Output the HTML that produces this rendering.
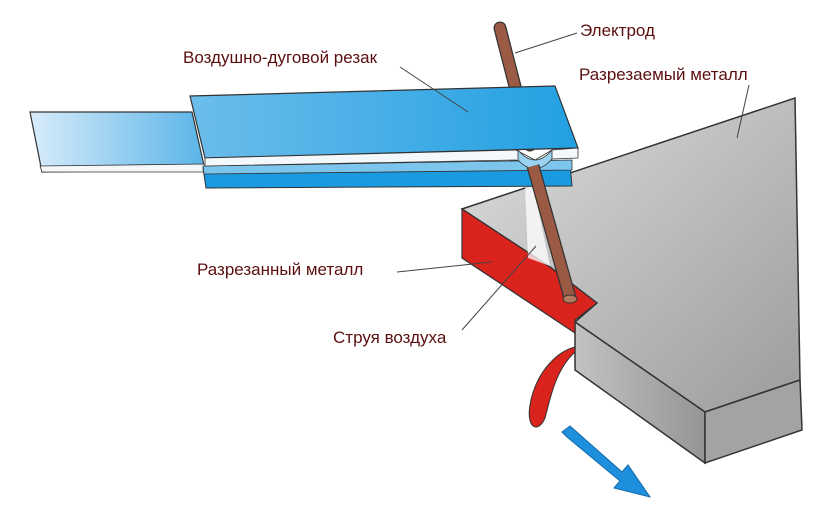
<!DOCTYPE html>
<html><head><meta charset="utf-8"><style>
html,body{margin:0;padding:0;background:#fff;}
svg{display:block}
text{font-family:"Liberation Sans",sans-serif;font-size:17px;fill:#5c0f0f;}
</style></head><body>
<svg width="835" height="515" viewBox="0 0 835 515" xmlns="http://www.w3.org/2000/svg">
<defs>
<linearGradient id="lb" x1="0" x2="1" y1="0" y2="0"><stop offset="0" stop-color="#d8ecfa"/><stop offset="1" stop-color="#5ab4e8"/></linearGradient>
<linearGradient id="mb" x1="0" x2="1" y1="0" y2="0"><stop offset="0" stop-color="#6cbdeb"/><stop offset="1" stop-color="#22a0e2"/></linearGradient>
<linearGradient id="gr" x1="0" x2="1" y1="0" y2="1"><stop offset="0" stop-color="#dedede"/><stop offset="1" stop-color="#9c9c9c"/></linearGradient>
<linearGradient id="gr2" x1="0" x2="1" y1="0" y2="0"><stop offset="0" stop-color="#c2c2c2"/><stop offset="1" stop-color="#959595"/></linearGradient>
</defs>
<!-- gray block -->
<polygon points="462,209 795,98 800,380 705,412 575,322 597,303 550,267" fill="url(#gr)" stroke="#333" stroke-width="1.5"/>
<polygon points="575,322 705,412 705,463 575,370" fill="url(#gr2)" stroke="#333" stroke-width="1.5"/>
<polygon points="705,412 800,380 802,430 705,463" fill="#a3a3a3" stroke="#333" stroke-width="1.5"/>
<!-- red face -->
<polygon points="462,209 550,267 597,303 575,320 575,333 462,258" fill="#d9231c" stroke="#333" stroke-width="1.2"/>
<!-- air jet -->
<polygon points="525,185 533,185 550,266 528,258" fill="#ffffff" opacity="0.75"/>
<!-- drip -->
<path d="M575,347 C555,352 535,375 530,405 C526,428 538,434 545,418 C550,400 555,370 575,352 Z" fill="#d9231c" stroke="#333" stroke-width="1"/>
<!-- arrow -->
<polygon points="562,432 570,426 622,472 628,465 650,497 614,488 620,481 567,437" fill="#1e8fdc" stroke="#1469a8" stroke-width="1"/>
<!-- electrode upper -->
<line x1="500" y1="28" x2="530" y2="145" stroke="#333" stroke-width="13" stroke-linecap="round"/>
<line x1="500" y1="28" x2="530" y2="145" stroke="#9b5a44" stroke-width="10.5" stroke-linecap="round"/>
<!-- left bar -->
<polygon points="30,112 192,112 205,170 42,172" fill="url(#lb)" stroke="#333" stroke-width="1.2"/>
<polygon points="40,166 205,164 205,172 42,172" fill="#f4f8fb" stroke="#333" stroke-width="0.8"/>
<!-- lower plate -->
<polygon points="203,168 570,164 572,186 206,188" fill="#1a9ae0" stroke="#333" stroke-width="1"/>
<polygon points="203,166 572,160 572,170 204,174" fill="#7cc6ee" stroke="#333" stroke-width="0.8"/>
<!-- main plate -->
<polygon points="190,96 555,86 578,148 205,158" fill="url(#mb)" stroke="#333" stroke-width="1.2"/>
<polygon points="205,158 516,150 535,160 552,150 578,148 578,158 552,159 535,168 516,160 205,166" fill="#f2f8fc" stroke="#333" stroke-width="0.8"/>
<path d="M518,150 Q535,170 552,150 L552,159 Q535,178 518,160 Z" fill="#9ad3f2" stroke="#333" stroke-width="0.8"/>
<!-- electrode lower -->
<line x1="533" y1="166" x2="570" y2="298" stroke="#333" stroke-width="13"/>
<line x1="533" y1="166" x2="570" y2="298" stroke="#9b5a44" stroke-width="10.5"/>
<ellipse cx="570" cy="299" rx="7" ry="4" fill="#b57a5e" stroke="#333"/>
<!-- leaders -->
<g stroke="#444" stroke-width="1" fill="none">
<line x1="577" y1="33" x2="515" y2="53"/>
<line x1="400" y1="67" x2="468" y2="112"/>
<line x1="749" y1="85" x2="737" y2="138"/>
<line x1="397" y1="272" x2="492" y2="262"/>
<line x1="462" y1="330" x2="536" y2="246"/>
</g>
<text x="580" y="36">Электрод</text>
<text x="183" y="63">Воздушно-дуговой резак</text>
<text x="579" y="80">Разрезаемый металл</text>
<text x="197" y="275">Разрезанный металл</text>
<text x="333" y="343">Струя воздуха</text>
</svg>
</body></html>
